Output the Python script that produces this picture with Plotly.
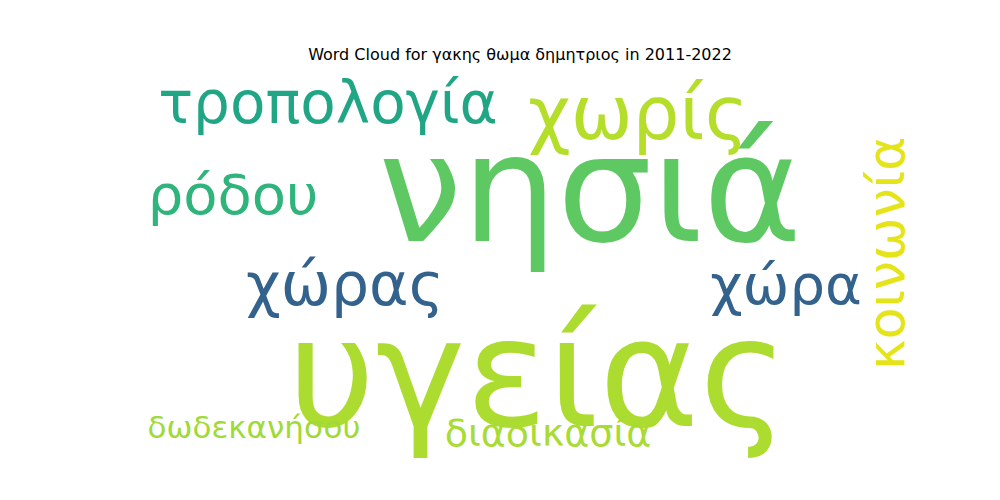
import plotly.graph_objects as go

words = ["νησιά", "υγείας", "τροπολογία", "χωρίς", "ρόδου", "χώρας", "χώρα", "δωδεκανήσου", "διαδικασία"]
xs = [582, 530, 320, 630, 225, 337, 778, 246, 540]
ys = [195, 380, 100, 112, 192, 282, 282, 422, 428]
sizes = [150, 152, 58, 74, 56, 60, 56, 31, 38]
colors = ["#5ec962", "#addc30", "#21a685", "#b5de2b", "#2fb47c", "#33638d", "#33638d", "#a0da39", "#a8db34"]

vword = "κοινωνία"
vx, vy, vsize, vcolor = 878, 245, 52, "#e5e419"

fig = go.Figure()
fig.add_trace(go.Scatter(x=xs, y=ys, mode="text", text=words,
                         textfont=dict(size=sizes, color=colors, family="DejaVu Sans"),
                         hoverinfo="skip"))
fig.add_annotation(x=vx, y=vy, text=vword, showarrow=False, textangle=-90,
                   font=dict(size=vsize, color=vcolor, family="DejaVu Sans"))
fig.update_layout(
    width=1000, height=500, margin=dict(l=0, r=0, t=0, b=0),
    paper_bgcolor="white", plot_bgcolor="white", showlegend=False,
    xaxis=dict(range=[0, 1000], visible=False),
    yaxis=dict(range=[500, 0], visible=False),
    title=dict(text="Word Cloud for γακης θωμα δημητριος in 2011-2022", x=0.512, y=0.907,
               xanchor="center", yanchor="middle",
               font=dict(size=16, color="black", family="DejaVu Sans")),
)
fig.write_html("out.html")
